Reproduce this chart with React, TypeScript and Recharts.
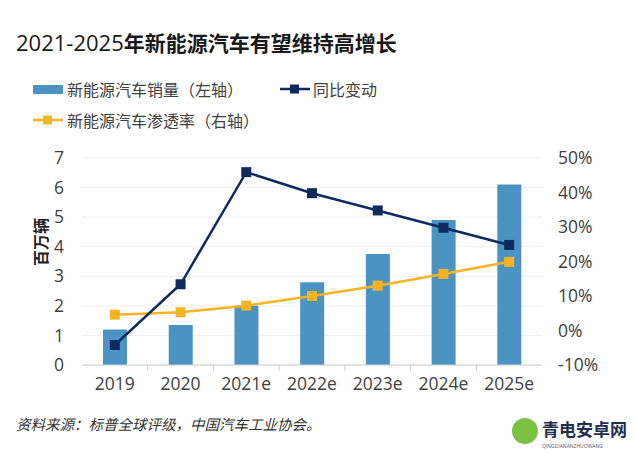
import React from "react";
import { ComposedChart, Bar, Line, XAxis, YAxis, CartesianGrid } from "recharts";

const years = ["2019", "2020", "2021e", "2022e", "2023e", "2024e", "2025e"];
const sales = [1.2, 1.35, 2.0, 2.8, 3.75, 4.9, 6.1];
const yoy = [-4.2, 13.4, 45.9, 39.8, 34.8, 29.8, 24.8];
const penetration = [4.6, 5.3, 7.2, 10.0, 13.0, 16.4, 19.9];
const leftTicks = [0, 1, 2, 3, 4, 5, 6, 7];
const rightTicks = [-10, 0, 10, 20, 30, 40, 50];

const BLUE = "#4a93c3";
const NAVY = "#0e2a5e";
const ORANGE = "#f6b323";
const TEXT = "#404040";
const FONT = "'Open Sans', 'Noto Sans CJK SC', sans-serif";
const CJK = "'Noto Sans CJK SC', sans-serif";

const data = years.map((y, i) => ({
  year: y,
  sales: sales[i],
  yoy: yoy[i],
  pen: penetration[i],
}));

const squareDot = (color: string) => (props: any) => {
  const { cx, cy, index } = props;
  if (cx == null || cy == null) return <g key={index} />;
  return <rect key={index} x={cx - 5} y={cy - 5} width={10} height={10} fill={color} />;
};

const BAND = 460 / years.length;

function XTick(props: any) {
  const { x, y, payload, index } = props;
  return (
    <g>
      {index < years.length - 1 && (
        <line x1={x + BAND / 2} x2={x + BAND / 2} y1={y - 8} y2={y - 2} stroke="#cfcfcf" />
      )}
      <text x={x} y={y + 17} textAnchor="middle" fill={TEXT} fontSize={17.5} fontFamily={FONT}>
        {payload.value}
      </text>
    </g>
  );
}

function LegendLine({ color }: { color: string }) {
  return (
    <svg width={30} height={12} style={{ display: "block" }}>
      <line x1={0} x2={30} y1={6} y2={6} stroke={color} strokeWidth={2.5} />
      <rect x={10} y={1.5} width={9} height={9} fill={color} />
    </svg>
  );
}

export default function App() {
  return (
    <div style={{ position: "absolute", left: 0, top: 0, width: 636, height: 453, background: "#fff", overflow: "hidden" }}>
      <div style={{ position: "absolute", left: 16, top: 27, fontSize: 21, fontFamily: CJK, color: "#1a1a1a", whiteSpace: "nowrap", lineHeight: "30px" }}>
        <span style={{ fontFamily: FONT, fontWeight: 400, fontSize: 22 }}>2021-2025</span>
        <span style={{ fontWeight: 700 }}>年新能源汽车有望维持高增长</span>
      </div>

      <div style={{ position: "absolute", left: 33, top: 77, display: "flex", alignItems: "center", fontFamily: CJK, fontSize: 16, color: TEXT, whiteSpace: "nowrap" }}>
        <div style={{ width: 30, height: 9, background: BLUE, marginRight: 4 }} />
        新能源汽车销量（左轴）
      </div>
      <div style={{ position: "absolute", left: 280, top: 77, display: "flex", alignItems: "center", fontFamily: CJK, fontSize: 16, color: TEXT, whiteSpace: "nowrap" }}>
        <LegendLine color={NAVY} />
        <span style={{ marginLeft: 3 }}>同比变动</span>
      </div>
      <div style={{ position: "absolute", left: 33, top: 108, display: "flex", alignItems: "center", fontFamily: CJK, fontSize: 16, color: TEXT, whiteSpace: "nowrap" }}>
        <LegendLine color={ORANGE} />
        <span style={{ marginLeft: 4 }}>新能源汽车渗透率（右轴）</span>
      </div>

      <div style={{ position: "absolute", left: 0, top: 0 }}>
        <ComposedChart
          width={636}
          height={453}
          data={data}
          barCategoryGap="32%"
          margin={{ top: 158, right: 34, bottom: 58, left: 32 }}
        >
          <CartesianGrid yAxisId="left" vertical={false} stroke="#efefef" />
          <XAxis
            dataKey="year"
            axisLine={{ stroke: "#cfcfcf" }}
            tickLine={false}
            tick={<XTick />}
            height={30}
            interval={0}
          />
          <YAxis
            yAxisId="left"
            domain={[0, 7]}
            ticks={leftTicks}
            width={50}
            axisLine={false}
            tickLine={false}
            tickMargin={12}
            tick={{ fill: TEXT, fontSize: 17.5, fontFamily: FONT }}
          />
          <YAxis
            yAxisId="right"
            orientation="right"
            domain={[-10, 50]}
            ticks={rightTicks}
            width={60}
            axisLine={false}
            tickLine={false}
            tickMargin={10}
            tickFormatter={(v) => `${v}%`}
            tick={{ fill: TEXT, fontSize: 17.5, fontFamily: FONT, textAnchor: "start" }}
          />
          <Bar yAxisId="left" dataKey="sales" fill={BLUE} isAnimationActive={false} />
          <Line
            yAxisId="right"
            dataKey="pen"
            stroke={ORANGE}
            strokeWidth={2.5}
            dot={squareDot(ORANGE)}
            activeDot={false}
            isAnimationActive={false}
          />
          <Line
            yAxisId="right"
            dataKey="yoy"
            stroke={NAVY}
            strokeWidth={2.5}
            dot={squareDot(NAVY)}
            activeDot={false}
            isAnimationActive={false}
          />
        </ComposedChart>
      </div>

      <div style={{ position: "absolute", left: 40, top: 242, transform: "translate(-50%, -50%) rotate(-90deg)", fontFamily: CJK, fontSize: 16, fontWeight: 700, color: "#222", whiteSpace: "nowrap" }}>
        百万辆
      </div>

      <div style={{ position: "absolute", left: 16, top: 413, fontFamily: CJK, fontSize: 14.5, fontStyle: "italic", color: "#333", whiteSpace: "nowrap" }}>
        资料来源：标普全球评级，中国汽车工业协会。
      </div>

      <div style={{ position: "absolute", left: 512, top: 418, width: 26, height: 26, borderRadius: 13, background: "#7cc242" }} />
      <div style={{ position: "absolute", left: 542, top: 419, fontFamily: CJK, fontSize: 17, fontWeight: 700, color: "#1f2d4f", whiteSpace: "nowrap", lineHeight: "20px" }}>
        青电安卓网
      </div>
      <div style={{ position: "absolute", left: 542, top: 443, fontFamily: FONT, fontSize: 5, lineHeight: "6px", color: "#555", whiteSpace: "nowrap" }}>
        QINGDIANANZHUOWANG
      </div>
    </div>
  );
}
